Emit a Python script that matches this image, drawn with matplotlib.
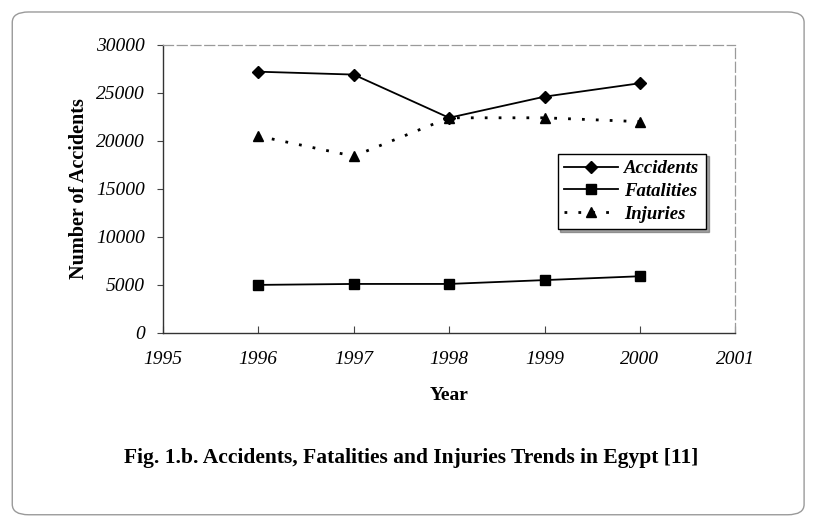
import matplotlib.pyplot as plt
from matplotlib.patches import FancyBboxPatch

years = [1996, 1997, 1998, 1999, 2000]
accidents = [27200, 26900, 22400, 24600, 26000]
fatalities = [5000, 5100, 5100, 5500, 5900]
injuries = [20500, 18400, 22400, 22400, 22000]

x_ticks = [1995, 1996, 1997, 1998, 1999, 2000, 2001]
y_ticks = [0, 5000, 10000, 15000, 20000, 25000, 30000]

serif = "Liberation Serif"

fig = plt.figure(figsize=(8.18, 5.21), dpi=100)

# rounded frame around the whole figure, as in the scanned page
frame = FancyBboxPatch((0.015, 0.012), 0.968, 0.965,
                       boxstyle="round,pad=0,rounding_size=0.02",
                       transform=fig.transFigure, fill=False,
                       edgecolor="#9a9a9a", linewidth=1.0)
fig.patches.append(frame)

ax = fig.add_axes([0.199, 0.361, 0.700, 0.553])

ax.plot(years, accidents, color="black", linestyle="-", linewidth=1.3,
        marker="D", markersize=6, label="Accidents")
ax.plot(years, fatalities, color="black", linestyle="-", linewidth=1.3,
        marker="s", markersize=7, label="Fatalities")
ax.plot(years, injuries, color="black", linestyle=(0, (1, 4)), linewidth=2,
        marker="^", markersize=7.5, label="Injuries")

ax.set_xlim(1995, 2001)
ax.set_ylim(0, 30000)
ax.set_xticks(x_ticks)
ax.set_yticks(y_ticks)
ax.set_xticklabels([str(v) for v in x_ticks], fontfamily=serif,
                   fontstyle="italic", fontsize=14)
ax.set_yticklabels([str(v) for v in y_ticks], fontfamily=serif,
                   fontstyle="italic", fontsize=14)
ax.tick_params(axis="x", direction="in", length=5, pad=13, color="#444444")
ax.tick_params(axis="y", direction="out", length=4, pad=9, color="#444444")

for side in ["top", "right"]:
    ax.spines[side].set_color("#9a9a9a")
    ax.spines[side].set_linestyle((0, (8, 3)))
    ax.spines[side].set_linewidth(0.9)
for side in ["left", "bottom"]:
    ax.spines[side].set_color("#333333")
    ax.spines[side].set_linewidth(1.0)

ax.set_xlabel("Year", fontfamily=serif, fontweight="bold", fontsize=14,
              labelpad=14)
ax.set_ylabel("Number of Accidents", fontfamily=serif, fontweight="bold",
              fontsize=14.5, labelpad=5)

leg = ax.legend(loc="upper left", bbox_to_anchor=(0.673, 0.655),
                frameon=True, shadow=True, fancybox=False,
                prop={"family": serif, "style": "italic",
                      "weight": "bold", "size": 13.5},
                handlelength=2.9, borderpad=0.35, labelspacing=0.3,
                handletextpad=0.3)
leg.get_frame().set_edgecolor("black")
leg.get_frame().set_linewidth(1.0)

fig.text(0.503, 0.12, "Fig. 1.b. Accidents, Fatalities and Injuries Trends in Egypt [11]",
         ha="center", va="center", fontfamily=serif, fontweight="bold",
         fontsize=15.5)

fig.savefig("out.png", dpi=100)
